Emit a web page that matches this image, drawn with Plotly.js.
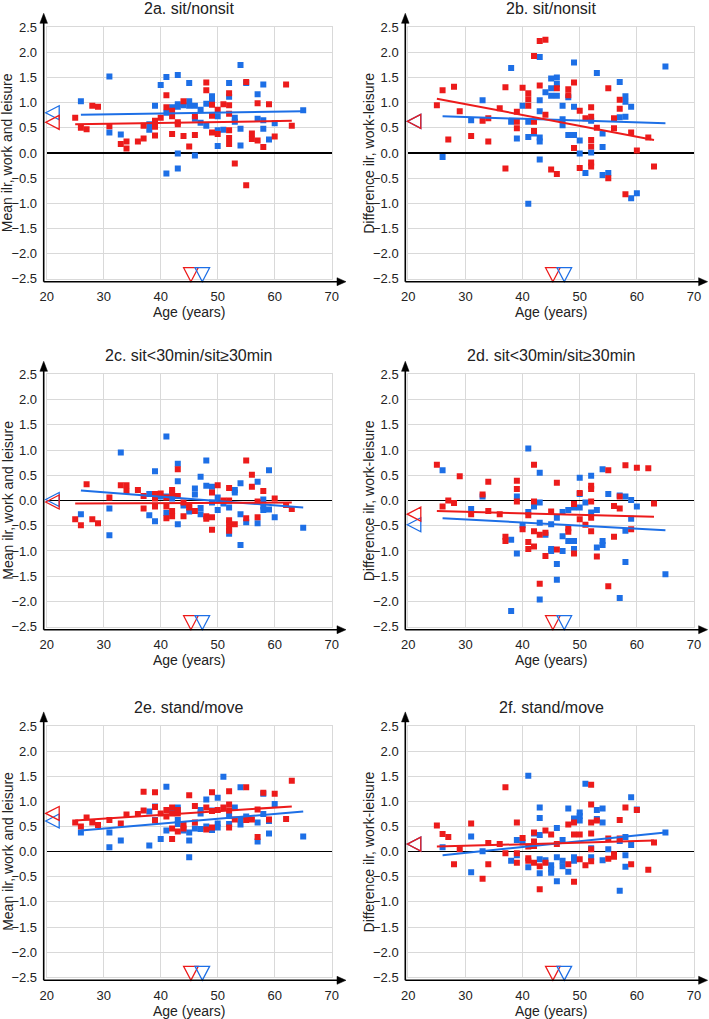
<!DOCTYPE html>
<html><head><meta charset="utf-8">
<script src="https://cdn.plot.ly/plotly-3.0.1.min.js"></script>
<style>html,body{margin:0;padding:0;background:#fff}#chart{width:709px;height:1019px}</style>
</head><body><div id="chart"></div>
<script>
// ---------- labels ----------
const panelTitles = ['2a. sit/nonsit','2b. sit/nonsit','2c. sit<30min/sit\u226530min','2d. sit<30min/sit\u226530min','2e. stand/move','2f. stand/move'];
const yTitles = ['Mean ilr, work and leisure','Difference ilr, work-leisure','Mean ilr, work and leisure','Difference ilr, work-leisure','Mean ilr, work and leisure','Difference ilr, work-leisure'];
const xTitle = 'Age (years)';

// ---------- 2a ----------
const redAgeA = [25,26,27,28,29,31,33,34,34,36,37,37,39,39,39,40,41,41,42,42,42,43,43,44,44,45,46,46,48,48,49,49,49,50,50,51,52,52,52,52,52,52,53,55,55,56,56,57,57,58,59,60,62,63];
const redValA = [0.70,0.50,0.47,0.94,0.92,0.53,0.18,0.23,0.09,0.23,0.54,0.29,0.64,0.52,0.35,0.70,1.15,0.91,0.84,0.73,0.38,0.61,0.57,1.03,0.34,0.13,0.73,0.36,1.40,1.25,0.96,0.74,0.41,0.86,0.38,0.97,1.19,0.95,0.78,0.45,0.30,0.18,-0.21,1.41,-0.64,0.39,0.28,0.99,0.25,0.12,0.97,0.33,1.36,0.54];
const blueAgeA = [26,31,31,33,38,38,39,40,41,41,41,42,43,43,43,43,43,44,45,45,45,46,46,46,47,47,48,48,49,49,50,50,50,51,52,52,53,53,54,54,54,55,57,57,58,58,58,59,60,65];
const blueValA = [1.03,1.52,0.41,0.37,0.57,0.46,0.94,1.35,1.51,0.80,-0.41,0.91,1.55,0.97,0.92,-0.01,-0.31,0.95,1.39,1.03,0.94,0.94,0.68,-0.05,0.86,0.60,0.98,0.54,1.13,1.05,0.73,0.45,0.14,0.46,1.39,1.12,0.70,0.62,1.75,0.48,0.15,1.39,1.17,0.68,1.36,0.65,0.48,0.27,0.59,0.85];

// ---------- 2b ----------
const redAgeB = [25,26,27,28,29,31,33,34,34,36,37,37,39,39,39,40,41,41,41,42,42,42,43,43,44,44,45,46,46,48,48,49,49,50,50,51,52,52,52,52,52,52,53,55,55,56,56,57,57,58,59,60,62,63];
const redValB = [0.95,1.25,0.27,1.32,0.83,0.34,0.64,0.69,0.23,0.89,1.31,-0.31,0.82,0.62,0.49,1.30,1.19,1.07,0.94,1.93,0.62,0.44,2.23,1.34,2.25,0.76,-0.33,1.29,-0.42,1.27,1.15,1.40,0.10,0.84,-0.30,0.69,0.91,0.72,0.26,0.13,-0.19,-0.27,0.50,1.29,-0.50,0.69,0.49,1.06,0.88,-0.82,0.41,0.05,0.31,-0.27];
const blueAgeB = [26,31,33,38,38,39,40,41,41,41,42,43,43,43,43,43,43,44,45,45,45,46,46,46,47,47,47,48,48,49,49,49,50,50,51,52,52,53,54,54,54,55,57,57,58,58,58,59,59,60,65];
const blueValB = [-0.08,0.65,1.05,1.69,0.62,0.29,0.94,0.62,0.32,-1.01,0.39,1.91,1.05,0.83,0.31,0.23,-0.13,1.21,1.48,1.29,1.14,1.50,1.37,1.14,0.94,0.67,0.55,1.11,0.36,1.80,0.92,0.36,0.25,-0.01,-0.40,0.64,0.01,1.59,0.39,0.12,-0.44,-0.40,1.41,0.71,1.13,1.02,0.72,0.92,-0.90,-0.80,1.72];

// ---------- 2c ----------
const redAgeC = [25,26,27,28,29,31,33,34,34,36,37,37,39,39,39,40,41,41,41,42,42,42,42,43,43,44,44,45,45,46,48,48,49,49,49,50,51,52,52,52,52,52,52,53,55,55,56,56,57,57,58,60,62,63];
const redValC = [-0.37,-0.49,0.32,-0.37,-0.45,0.06,0.30,0.30,0.19,0.21,0.09,-0.16,0.13,0.04,-0.12,0.14,0.06,-0.12,-0.35,0.21,0.14,-0.21,-0.31,0.62,0.09,-0.04,-0.31,-0.09,-0.14,-0.21,-0.31,-0.36,0.16,-0.33,-0.58,0.30,0.00,0.25,0.00,-0.39,-0.45,-0.54,-0.60,-0.47,0.79,-0.35,0.51,0.27,-0.02,-0.33,0.19,0.04,-0.09,-0.17];
const blueAgeC = [26,31,31,33,38,38,39,39,40,41,41,41,42,43,43,43,44,45,46,46,47,47,47,48,48,49,49,50,50,51,52,52,53,53,54,54,54,55,57,57,58,58,58,59,59,60,65];
const blueValC = [-0.27,-0.16,-0.69,0.95,0.13,-0.29,0.58,-0.41,0.08,1.27,0.08,-0.25,0.04,0.73,0.38,-0.47,-0.10,-0.22,0.24,0.12,0.47,-0.15,-0.27,0.79,0.29,0.27,-0.04,0.06,-0.19,-0.06,-0.14,-0.66,0.21,0.16,0.34,-0.27,-0.88,-0.43,0.37,-0.45,0.02,-0.12,-0.19,0.60,-0.18,-0.33,-0.54];

// ---------- 2d ----------
const redAgeD = [25,26,27,28,29,31,33,34,34,36,37,37,39,39,39,40,41,41,41,42,42,42,42,43,43,44,44,45,46,46,48,48,49,49,50,50,51,52,52,52,52,52,53,55,55,56,56,57,57,58,59,60,62,63];
const redValD = [0.71,-0.12,0.00,-0.05,0.48,-0.27,0.12,0.37,-0.21,-0.27,-0.72,-0.80,0.39,0.23,-0.02,-0.57,-0.29,-0.82,-0.96,0.71,-0.02,-0.61,-0.91,-0.68,-1.65,-0.64,-1.10,-0.22,0.35,-0.97,-0.55,-0.62,-0.07,-1.05,0.15,-0.37,-0.48,0.29,0.23,-0.02,-0.34,-0.61,-1.11,0.60,-1.70,-0.11,-0.72,0.08,-0.16,0.70,-0.57,0.65,0.64,-0.06];
const blueAgeD = [26,31,33,38,38,39,39,40,41,41,42,43,43,43,43,44,45,45,45,46,46,46,47,47,47,48,48,49,49,49,50,50,50,51,52,52,53,53,54,54,54,55,57,57,58,58,58,59,59,60,65];
const blueValD = [0.60,-0.17,0.08,-0.78,-2.19,0.08,-1.05,-0.49,1.03,-0.23,-0.12,0.55,-0.04,-0.44,-1.96,-0.68,-0.47,-0.96,-1.00,-0.34,-1.26,-1.57,-0.23,-0.71,-1.00,-0.19,-0.80,-0.14,-0.80,-0.96,0.45,0.13,-0.14,-0.04,0.49,-0.24,-0.19,-0.93,0.62,-0.80,-0.88,0.13,0.10,-1.93,0.08,-0.60,-1.22,0.01,-0.36,-0.12,-1.46];

// ---------- 2e ----------
const redAgeE = [25,26,27,28,29,31,33,34,36,37,37,39,39,39,40,41,41,42,42,42,42,43,43,43,44,44,45,46,46,48,48,49,49,49,50,51,52,52,52,52,53,55,55,56,57,57,58,59,60,62,63];
const redValE = [0.58,0.50,0.68,0.58,0.53,0.63,0.56,0.74,0.75,1.19,0.82,1.18,0.89,0.62,0.76,0.83,0.70,0.88,0.76,0.46,0.25,0.83,0.76,0.40,0.53,0.46,1.12,0.91,0.58,0.88,0.44,1.18,0.81,0.48,0.83,0.88,1.20,0.94,0.82,0.48,0.64,1.28,0.63,0.64,0.84,0.29,1.17,0.64,1.15,0.65,1.41];
const blueAgeE = [26,31,31,33,38,38,39,39,40,41,41,42,43,43,43,44,45,45,45,46,47,47,47,48,48,49,49,50,50,50,51,52,52,53,54,54,54,55,57,57,58,58,59,59,60,65];
const blueValE = [0.38,0.38,0.09,0.22,0.80,0.12,0.90,0.63,0.25,1.29,0.42,0.82,0.88,0.63,0.55,0.42,0.38,0.22,-0.11,0.46,0.83,0.76,0.45,1.04,0.50,0.82,0.43,1.07,0.56,0.48,1.49,0.71,0.55,0.88,1.28,0.64,0.54,0.70,0.58,0.20,1.15,0.75,0.61,0.36,0.95,0.30];

// ---------- 2f ----------
const redAgeF = [25,26,27,28,29,31,33,34,34,36,37,37,39,39,39,40,41,41,41,42,42,42,42,43,43,44,44,45,46,48,48,49,49,49,50,50,51,52,52,52,52,52,52,53,55,55,56,56,57,57,58,59,60,62,63];
const redValF = [0.52,0.35,0.29,-0.25,0.05,0.56,-0.54,0.17,-0.25,0.15,1.28,-0.03,0.58,-0.03,-0.22,0.27,0.10,-0.13,-0.18,0.38,0.20,0.11,-0.22,-0.29,-0.75,0.42,-0.22,0.34,0.15,0.54,-0.25,0.58,0.34,-0.60,0.34,-0.15,-0.27,1.33,0.94,0.58,0.36,0.05,-0.19,0.62,0.26,-0.14,-0.05,-0.10,0.63,0.26,0.88,-0.25,0.83,-0.36,0.18];
const blueAgeF = [26,31,31,33,38,39,39,40,41,41,42,43,43,43,43,43,44,45,45,45,46,46,46,47,47,47,48,48,49,49,49,50,50,50,51,52,52,53,53,54,54,54,55,57,57,58,58,58,59,59,60,65];
const blueValF = [0.09,0.30,-0.41,0.01,-0.18,0.23,-0.07,0.18,1.51,-0.31,0.36,0.88,0.67,0.33,-0.15,-0.43,-0.17,-0.27,-0.35,-0.42,0.47,-0.11,-0.59,0.23,-0.18,-0.29,0.86,-0.40,0.66,-0.11,-0.18,0.78,0.71,0.62,1.35,0.07,-0.11,0.83,0.65,0.86,0.58,-0.17,0.05,0.21,-0.78,0.29,-0.07,-0.30,1.08,0.13,0.84,0.38];

// ---------- regression lines (end points, per panel a..f) ----------
const redFitAge = [25, 63];
const blueFitAge = [26, 65];
const redFitVal = [[0.57,0.64],[1.08,0.26],[-0.06,-0.04],[-0.21,-0.32],[0.62,0.90],[0.10,0.22]];
const blueFitVal = [[0.76,0.83],[0.73,0.59],[0.20,-0.14],[-0.35,-0.59],[0.42,0.80],[-0.07,0.38]];

// ---------- group means (left markers: y mean; bottom markers: age mean) ----------
const redMeanVal = [0.61,0.63,-0.03,-0.27,0.76,0.15];
const blueMeanVal = [0.80,0.63,0.02,-0.48,0.61,0.15];
const redMeanAge = 45.3;
const blueMeanAge = 47.3;

const RED = '#ec1b1b';
const BLUE = '#1d6fe6';

const panels = [
  [redAgeA, redValA, blueAgeA, blueValA],
  [redAgeB, redValB, blueAgeB, blueValB],
  [redAgeC, redValC, blueAgeC, blueValC],
  [redAgeD, redValD, blueAgeD, blueValD],
  [redAgeE, redValE, blueAgeE, blueValE],
  [redAgeF, redValF, blueAgeF, blueValF]
];

const W = 709, H = 1019;
const colPx = [[46.7, 331.7], [408.3, 694]];
const rowPx = [[27.3, 278.7], [374.3, 626.7], [726, 977.3]];

const traces = [];
const layout = {
  width: W, height: H,
  margin: {l:0, r:0, t:0, b:0},
  paper_bgcolor: '#fff', plot_bgcolor: '#fff',
  showlegend: false,
  font: {family: 'Liberation Sans, Arial, sans-serif', color: '#222'},
  shapes: [], annotations: []
};

panels.forEach((p, i) => {
  const n = i === 0 ? '' : String(i + 1);
  const xa = 'x' + n, ya = 'y' + n;
  const col = i % 2, row = Math.floor(i / 2);
  const [cx0, cx1] = colPx[col], [ry0, ry1] = rowPx[row];
  const plotW = cx1 - cx0, plotH = ry1 - ry0;

  layout['xaxis' + n] = {
    domain: [cx0 / W, cx1 / W], anchor: ya,
    range: [20, 70], tick0: 20, dtick: 10,
    showgrid: true, gridcolor: '#d9d9d9', gridwidth: 1,
    zeroline: false, showline: true, mirror: true, linecolor: '#d9d9d9', linewidth: 1,
    ticks: 'outside', ticklen: 6, tickcolor: 'rgba(0,0,0,0)',
    tickfont: {size: 13, color: '#222'},
    automargin: false, fixedrange: true
  };
  layout['yaxis' + n] = {
    domain: [1 - ry1 / H, 1 - ry0 / H], anchor: xa,
    range: [-2.5, 2.5], tick0: 0, dtick: 0.5, tickformat: '.1f',
    showgrid: true, gridcolor: '#d9d9d9', gridwidth: 1,
    zeroline: true, zerolinecolor: '#000', zerolinewidth: 1.5,
    showline: true, mirror: true, linecolor: '#d9d9d9', linewidth: 1,
    ticks: 'outside', ticklen: 6, tickcolor: 'rgba(0,0,0,0)',
    tickfont: {size: 13, color: '#222'},
    automargin: false, fixedrange: true
  };

  // points
  traces.push({type:'scatter', mode:'markers', x:p[2], y:p[3], xaxis:xa, yaxis:ya,
    marker:{symbol:'square', size:6, color:BLUE}, hoverinfo:'skip'});
  traces.push({type:'scatter', mode:'markers', x:p[0], y:p[1], xaxis:xa, yaxis:ya,
    marker:{symbol:'square', size:6, color:RED}, hoverinfo:'skip'});
  // regression lines
  traces.push({type:'scatter', mode:'lines', x:blueFitAge, y:blueFitVal[i], xaxis:xa, yaxis:ya,
    line:{color:BLUE, width:2}, hoverinfo:'skip'});
  traces.push({type:'scatter', mode:'lines', x:redFitAge, y:redFitVal[i], xaxis:xa, yaxis:ya,
    line:{color:RED, width:2}, hoverinfo:'skip'});

  // mean markers on y axis (open left-pointing triangles)
  [[blueMeanVal[i], BLUE], [redMeanVal[i], RED]].forEach(([v, c]) => {
    layout.shapes.push({type:'path', xref: xa + ' domain', yref: ya,
      xsizemode:'pixel', ysizemode:'pixel', xanchor: 0, yanchor: v,
      path:'M-1,0 L12.5,7 L12.5,-7 Z', line:{color:c, width:1.3}, fillcolor:'rgba(0,0,0,0)'});
  });
  // mean markers on x axis (open down-pointing triangles)
  [[redMeanAge, RED], [blueMeanAge, BLUE]].forEach(([a, c]) => {
    layout.shapes.push({type:'path', xref: xa, yref: ya + ' domain',
      xsizemode:'pixel', ysizemode:'pixel', xanchor: a, yanchor: 0,
      path:'M0,-3 L-7.3,11 L7.3,11 Z', line:{color:c, width:1.3}, fillcolor:'rgba(0,0,0,0)'});
  });

  // axis lines with arrow heads
  const off = 3;
  const xd = xa + ' domain', yd = ya + ' domain';
  const xTip = (346 - 46.7) / plotW;     // x-axis arrow tip (domain fraction)
  const yTip = (278.7 - 13.3) / plotH;   // y-axis arrow tip (domain fraction)
  const xOff = -off / plotW, yOff = -off / plotH;
  layout.shapes.push({type:'line', xref:xd, yref:yd, x0:xOff, x1:xTip - 6 / plotW, y0:yOff, y1:yOff,
    line:{color:'#000', width:1.6}});
  layout.shapes.push({type:'path', xref:xd, yref:yd, xsizemode:'pixel', ysizemode:'pixel',
    xanchor:xTip, yanchor:yOff, path:'M0,0 L-9,4 L-9,-4 Z', line:{color:'#000', width:0.5}, fillcolor:'#000'});
  layout.shapes.push({type:'line', xref:xd, yref:yd, x0:xOff, x1:xOff, y0:yOff, y1:yTip - 6 / plotH,
    line:{color:'#000', width:1.6}});
  layout.shapes.push({type:'path', xref:xd, yref:yd, xsizemode:'pixel', ysizemode:'pixel',
    xanchor:xOff, yanchor:yTip, path:'M0,0 L-3.8,-10 L3.8,-10 Z', line:{color:'#000', width:0.5}, fillcolor:'#000'});

  // panel title
  layout.annotations.push({xref:xd, yref:yd, x:0.5, y:1 + 19 / plotH, xanchor:'center', yanchor:'middle',
    text: panelTitles[i], showarrow:false, font:{size:16, color:'#222'}});
  // axis titles
  layout.annotations.push({xref:xd, yref:yd, x:0.5, y:-33.5 / plotH, xanchor:'center', yanchor:'middle',
    text: xTitle, showarrow:false, font:{size:14, color:'#222'}});
  layout.annotations.push({xref:xd, yref:yd, x:-39.5 / plotW, y:0.5, xanchor:'center', yanchor:'middle',
    textangle:-90, text: yTitles[i], showarrow:false, font:{size:14, color:'#222'}});
});

Plotly.newPlot('chart', traces, layout, {staticPlot:true, displayModeBar:false});
</script>
</body></html>
